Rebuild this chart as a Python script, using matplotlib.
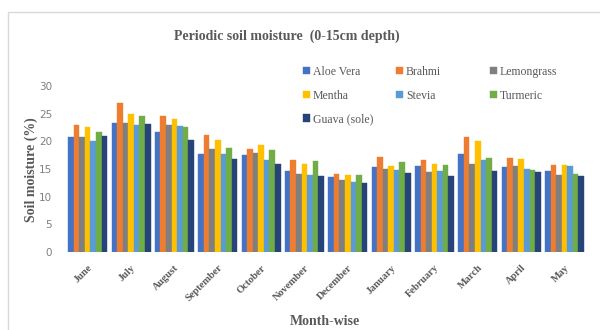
import numpy as np
from matplotlib import pyplot as plt
from matplotlib.patches import Rectangle

months = ["June", "July", "August", "September", "October", "November",
          "December", "January", "February", "March", "April", "May"]
series_names = ["Aloe Vera", "Brahmi", "Lemongrass", "Mentha", "Stevia",
                "Turmeric", "Guava (sole)"]

aloe_vera = [20.8, 23.4, 21.7, 17.8, 17.6, 14.7, 13.6, 15.3, 15.5, 17.7, 15.4, 14.7]
brahmi = [23.0, 26.9, 24.6, 21.2, 18.6, 16.7, 14.2, 17.2, 16.6, 20.8, 17.1, 15.8]
lemongrass = [20.8, 23.4, 22.9, 18.6, 18.0, 14.2, 13.0, 15.1, 14.5, 15.9, 15.5, 13.9]
mentha = [22.6, 25.0, 24.1, 20.3, 19.3, 15.9, 13.9, 15.6, 15.9, 20.0, 16.8, 15.7]
stevia = [20.0, 22.9, 22.8, 17.7, 16.7, 14.0, 12.7, 14.9, 14.7, 16.6, 15.0, 15.6]
turmeric = [21.7, 24.6, 22.6, 18.9, 18.5, 16.5, 14.0, 16.3, 15.8, 17.0, 14.8, 14.1]
guava = [20.9, 23.2, 20.3, 16.9, 15.9, 13.8, 12.5, 14.3, 13.8, 14.6, 14.4, 13.7]

colors = ["#4472C4", "#ED7D31", "#7F7F7F", "#FFC000", "#5B9BD5", "#70AD47", "#264478"]
serif = "Liberation Serif"
gray = "#595959"

fig = plt.figure(figsize=(6, 3.3), dpi=100)
ax = fig.add_axes([0.11, 0.236, 0.867, 0.503])

# light frame round the chart area
fig.patches.append(Rectangle((8 / 600, -0.05), 1.0, 1.0 - 12 / 330 + 0.05,
                             transform=fig.transFigure, fill=False,
                             edgecolor="#D9D9D9", linewidth=1))

all_data = [aloe_vera, brahmi, lemongrass, mentha, stevia, turmeric, guava]
x = np.arange(len(months))
width = 0.9 / len(all_data)
handles = []
for i, vals in enumerate(all_data):
    pos = x - 0.45 + width * (i + 0.5)
    b = ax.bar(pos, vals, width, color=colors[i], label=series_names[i],
               edgecolor=colors[i], linewidth=0.3)
    handles.append(b)

ax.set_xlim(-0.5, len(months) - 0.5)
ax.set_ylim(0, 30)
ax.set_yticks(range(0, 31, 5))
for s in ax.spines.values():
    s.set_visible(False)
ax.tick_params(axis="both", length=0, colors="#7F7F7F")
ax.tick_params(axis="y", labelsize=7.5, pad=10)
ax.set_xticks(x)
ax.set_xticklabels(months, rotation=45, ha="right", rotation_mode="anchor",
                   fontfamily=serif, fontweight="bold", fontsize=7.5, color=gray)
ax.tick_params(axis="x", pad=8)

ax.set_ylabel("Soil moisture (%)", fontfamily=serif, fontweight="bold",
              fontsize=10, color=gray)
ax.yaxis.set_label_coords(-0.054, 0.5)
fig.text(0.542, 0.015, "Month-wise", fontfamily=serif, fontweight="bold",
         fontsize=10, color=gray, ha="center")
fig.text(0.478, 0.88, "Periodic soil moisture  (0-15cm depth)", fontfamily=serif,
         fontweight="bold", fontsize=10, color=gray, ha="center")

# legend laid out row by row, one legend per column
columns = [[0, 3, 6], [1, 4], [2, 5]]
col_x = [0.497, 0.652, 0.808]
for cx, idx in zip(col_x, columns):
    leg = fig.legend([handles[i] for i in idx], [series_names[i] for i in idx],
                     loc="upper left", bbox_to_anchor=(cx, 0.815),
                     frameon=False, handlelength=0.6, handleheight=0.6,
                     handletextpad=0.25, labelspacing=1.0, borderaxespad=0,
                     prop={"family": serif, "size": 8.5})
    for t in leg.get_texts():
        t.set_color(gray)

fig.savefig("out.png", dpi=100)
